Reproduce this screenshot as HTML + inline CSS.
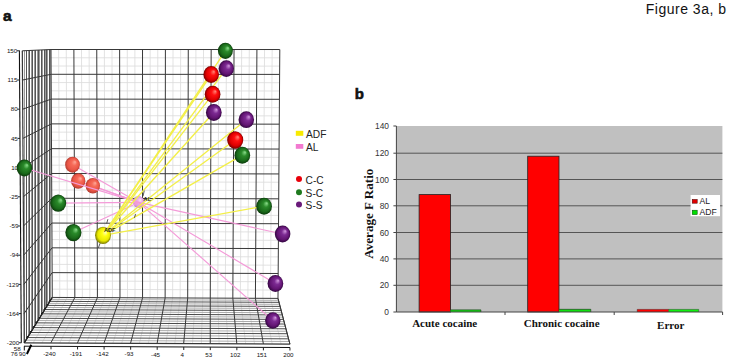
<!DOCTYPE html>
<html><head><meta charset="utf-8"><style>
html,body{margin:0;padding:0;background:#fff;}
body{width:729px;height:361px;overflow:hidden;position:relative;font-family:"Liberation Sans",sans-serif;}
svg{position:absolute;left:0;top:0;}
</style></head><body>
<svg width="729" height="361" viewBox="0 0 729 361">
<defs>
<radialGradient id="gg" cx="0.5" cy="0.5" r="0.5" fx="0.68" fy="0.32">
<stop offset="0" stop-color="#8ee08e"/><stop offset="0.35" stop-color="#2a8a2a"/><stop offset="0.75" stop-color="#1a6a1a"/><stop offset="1" stop-color="#0a3a0a"/></radialGradient>
<radialGradient id="gp" cx="0.5" cy="0.5" r="0.5" fx="0.68" fy="0.32">
<stop offset="0" stop-color="#d49ae0"/><stop offset="0.35" stop-color="#7c2a92"/><stop offset="0.75" stop-color="#621472"/><stop offset="1" stop-color="#320640"/></radialGradient>
<radialGradient id="gr" cx="0.5" cy="0.5" r="0.5" fx="0.68" fy="0.32">
<stop offset="0" stop-color="#ff8a7a"/><stop offset="0.35" stop-color="#ff1010"/><stop offset="0.75" stop-color="#dd0000"/><stop offset="1" stop-color="#7a0000"/></radialGradient>
<radialGradient id="gs" cx="0.5" cy="0.5" r="0.5" fx="0.68" fy="0.32">
<stop offset="0" stop-color="#ffaa9a"/><stop offset="0.35" stop-color="#f66a58"/><stop offset="0.75" stop-color="#ea5646"/><stop offset="1" stop-color="#b23c30"/></radialGradient>
<radialGradient id="gy" cx="0.5" cy="0.5" r="0.5" fx="0.68" fy="0.32">
<stop offset="0" stop-color="#ffffc0"/><stop offset="0.35" stop-color="#ffff10"/><stop offset="0.75" stop-color="#e8e800"/><stop offset="1" stop-color="#7a7a00"/></radialGradient>
<radialGradient id="ga" cx="0.5" cy="0.5" r="0.5" fx="0.68" fy="0.32">
<stop offset="0" stop-color="#fde6fb"/><stop offset="0.35" stop-color="#eeb4ec"/><stop offset="0.75" stop-color="#e2a0e0"/><stop offset="1" stop-color="#c488cc"/></radialGradient>

</defs>
<rect width="729" height="361" fill="#fff"/>
<!-- panel labels -->
<text x="3.0" y="20.6" font-family="Liberation Sans" font-weight="bold" font-size="15.5" fill="#111" stroke="#111" stroke-width="0.6">a</text>
<text x="354.8" y="98.6" font-family="Liberation Sans" font-weight="bold" font-size="15" fill="#111" stroke="#111" stroke-width="0.6">b</text>
<text x="645.8" y="13.8" font-family="Liberation Sans" font-size="14" letter-spacing="0.5" fill="#111">Figure 3a, b</text>

<!-- ===== panel a: 3D plot ===== -->
<g id="grid" shape-rendering="auto">
<line x1="58.62" y1="49.50" x2="59.79" y2="297.46" stroke="#dadada" stroke-width="0.8"/>
<line x1="51.04" y1="57.77" x2="279.74" y2="57.81" stroke="#dadada" stroke-width="0.8"/>
<line x1="66.25" y1="49.50" x2="67.31" y2="297.49" stroke="#dadada" stroke-width="0.8"/>
<line x1="51.08" y1="66.03" x2="279.68" y2="66.11" stroke="#dadada" stroke-width="0.8"/>
<line x1="81.50" y1="49.50" x2="82.36" y2="297.56" stroke="#dadada" stroke-width="0.8"/>
<line x1="51.17" y1="82.56" x2="279.56" y2="82.70" stroke="#dadada" stroke-width="0.8"/>
<line x1="89.13" y1="49.50" x2="89.89" y2="297.59" stroke="#dadada" stroke-width="0.8"/>
<line x1="51.21" y1="90.82" x2="279.50" y2="90.99" stroke="#dadada" stroke-width="0.8"/>
<line x1="104.39" y1="49.50" x2="104.93" y2="297.65" stroke="#dadada" stroke-width="0.8"/>
<line x1="51.29" y1="107.35" x2="279.38" y2="107.58" stroke="#dadada" stroke-width="0.8"/>
<line x1="112.01" y1="49.51" x2="112.46" y2="297.68" stroke="#dadada" stroke-width="0.8"/>
<line x1="51.34" y1="115.62" x2="279.32" y2="115.88" stroke="#dadada" stroke-width="0.8"/>
<line x1="127.27" y1="49.51" x2="127.51" y2="297.74" stroke="#dadada" stroke-width="0.8"/>
<line x1="51.42" y1="132.14" x2="279.20" y2="132.47" stroke="#dadada" stroke-width="0.8"/>
<line x1="134.89" y1="49.51" x2="135.03" y2="297.78" stroke="#dadada" stroke-width="0.8"/>
<line x1="51.46" y1="140.41" x2="279.14" y2="140.76" stroke="#dadada" stroke-width="0.8"/>
<line x1="150.15" y1="49.51" x2="150.08" y2="297.84" stroke="#dadada" stroke-width="0.8"/>
<line x1="51.55" y1="156.94" x2="279.02" y2="157.36" stroke="#dadada" stroke-width="0.8"/>
<line x1="157.77" y1="49.51" x2="157.60" y2="297.87" stroke="#dadada" stroke-width="0.8"/>
<line x1="51.59" y1="165.20" x2="278.96" y2="165.65" stroke="#dadada" stroke-width="0.8"/>
<line x1="173.03" y1="49.51" x2="172.65" y2="297.93" stroke="#dadada" stroke-width="0.8"/>
<line x1="51.67" y1="181.73" x2="278.83" y2="182.24" stroke="#dadada" stroke-width="0.8"/>
<line x1="180.65" y1="49.51" x2="180.17" y2="297.97" stroke="#dadada" stroke-width="0.8"/>
<line x1="51.72" y1="189.99" x2="278.77" y2="190.54" stroke="#dadada" stroke-width="0.8"/>
<line x1="195.91" y1="49.51" x2="195.22" y2="298.03" stroke="#dadada" stroke-width="0.8"/>
<line x1="51.80" y1="206.52" x2="278.65" y2="207.13" stroke="#dadada" stroke-width="0.8"/>
<line x1="203.53" y1="49.51" x2="202.75" y2="298.06" stroke="#dadada" stroke-width="0.8"/>
<line x1="51.84" y1="214.79" x2="278.59" y2="215.42" stroke="#dadada" stroke-width="0.8"/>
<line x1="218.79" y1="49.51" x2="217.79" y2="298.12" stroke="#dadada" stroke-width="0.8"/>
<line x1="51.93" y1="231.31" x2="278.47" y2="232.01" stroke="#dadada" stroke-width="0.8"/>
<line x1="226.42" y1="49.51" x2="225.32" y2="298.16" stroke="#dadada" stroke-width="0.8"/>
<line x1="51.97" y1="239.58" x2="278.41" y2="240.31" stroke="#dadada" stroke-width="0.8"/>
<line x1="241.67" y1="49.51" x2="240.37" y2="298.22" stroke="#dadada" stroke-width="0.8"/>
<line x1="52.05" y1="256.11" x2="278.29" y2="256.90" stroke="#dadada" stroke-width="0.8"/>
<line x1="249.30" y1="49.51" x2="247.89" y2="298.25" stroke="#dadada" stroke-width="0.8"/>
<line x1="52.10" y1="264.37" x2="278.23" y2="265.20" stroke="#dadada" stroke-width="0.8"/>
<line x1="264.55" y1="49.51" x2="262.94" y2="298.31" stroke="#dadada" stroke-width="0.8"/>
<line x1="52.18" y1="280.90" x2="278.11" y2="281.79" stroke="#dadada" stroke-width="0.8"/>
<line x1="272.18" y1="49.51" x2="270.46" y2="298.35" stroke="#dadada" stroke-width="0.8"/>
<line x1="52.22" y1="289.16" x2="278.05" y2="290.08" stroke="#dadada" stroke-width="0.8"/>
<line x1="33.11" y1="342.86" x2="59.79" y2="297.46" stroke="#dadada" stroke-width="0.8"/>
<line x1="41.97" y1="342.90" x2="67.31" y2="297.49" stroke="#dadada" stroke-width="0.8"/>
<line x1="59.68" y1="342.99" x2="82.36" y2="297.56" stroke="#dadada" stroke-width="0.8"/>
<line x1="68.54" y1="343.03" x2="89.89" y2="297.59" stroke="#dadada" stroke-width="0.8"/>
<line x1="86.25" y1="343.12" x2="104.93" y2="297.65" stroke="#dadada" stroke-width="0.8"/>
<line x1="95.11" y1="343.16" x2="112.46" y2="297.68" stroke="#dadada" stroke-width="0.8"/>
<line x1="112.82" y1="343.25" x2="127.51" y2="297.74" stroke="#dadada" stroke-width="0.8"/>
<line x1="121.68" y1="343.30" x2="135.03" y2="297.78" stroke="#dadada" stroke-width="0.8"/>
<line x1="139.39" y1="343.38" x2="150.08" y2="297.84" stroke="#dadada" stroke-width="0.8"/>
<line x1="148.25" y1="343.43" x2="157.60" y2="297.87" stroke="#dadada" stroke-width="0.8"/>
<line x1="165.96" y1="343.52" x2="172.65" y2="297.93" stroke="#dadada" stroke-width="0.8"/>
<line x1="174.82" y1="343.56" x2="180.17" y2="297.97" stroke="#dadada" stroke-width="0.8"/>
<line x1="192.53" y1="343.65" x2="195.22" y2="298.03" stroke="#dadada" stroke-width="0.8"/>
<line x1="201.39" y1="343.69" x2="202.75" y2="298.06" stroke="#dadada" stroke-width="0.8"/>
<line x1="219.10" y1="343.78" x2="217.79" y2="298.12" stroke="#dadada" stroke-width="0.8"/>
<line x1="227.96" y1="343.82" x2="225.32" y2="298.16" stroke="#dadada" stroke-width="0.8"/>
<line x1="245.67" y1="343.91" x2="240.37" y2="298.22" stroke="#dadada" stroke-width="0.8"/>
<line x1="254.53" y1="343.96" x2="247.89" y2="298.25" stroke="#dadada" stroke-width="0.8"/>
<line x1="272.24" y1="344.05" x2="262.94" y2="298.31" stroke="#dadada" stroke-width="0.8"/>
<line x1="281.10" y1="344.09" x2="270.46" y2="298.35" stroke="#dadada" stroke-width="0.8"/>
<line x1="24.5" y1="50.72" x2="24.5" y2="340.17" stroke="#9a9a9a" stroke-width="1"/>
<line x1="25.89" y1="340.17" x2="289.26" y2="341.46" stroke="#aaaaaa" stroke-width="1"/>
<line x1="28.5" y1="50.58" x2="28.5" y2="335.01" stroke="#9a9a9a" stroke-width="1"/>
<line x1="29.06" y1="335.01" x2="287.90" y2="336.27" stroke="#aaaaaa" stroke-width="1"/>
<line x1="31.5" y1="50.43" x2="31.5" y2="330.03" stroke="#9a9a9a" stroke-width="1"/>
<line x1="32.13" y1="330.03" x2="286.59" y2="331.24" stroke="#aaaaaa" stroke-width="1"/>
<line x1="34.5" y1="50.30" x2="34.5" y2="325.22" stroke="#9a9a9a" stroke-width="1"/>
<line x1="35.10" y1="325.22" x2="285.32" y2="326.39" stroke="#aaaaaa" stroke-width="1"/>
<line x1="37.5" y1="50.16" x2="37.5" y2="320.56" stroke="#9a9a9a" stroke-width="1"/>
<line x1="37.98" y1="320.56" x2="284.09" y2="321.69" stroke="#aaaaaa" stroke-width="1"/>
<line x1="39.5" y1="50.03" x2="39.5" y2="316.05" stroke="#9a9a9a" stroke-width="1"/>
<line x1="40.76" y1="316.05" x2="282.90" y2="317.14" stroke="#aaaaaa" stroke-width="1"/>
<line x1="42.5" y1="49.91" x2="42.5" y2="311.68" stroke="#9a9a9a" stroke-width="1"/>
<line x1="43.46" y1="311.68" x2="281.75" y2="312.74" stroke="#aaaaaa" stroke-width="1"/>
<line x1="45.5" y1="49.79" x2="45.5" y2="307.45" stroke="#9a9a9a" stroke-width="1"/>
<line x1="46.07" y1="307.45" x2="280.63" y2="308.48" stroke="#aaaaaa" stroke-width="1"/>
<line x1="47.5" y1="49.67" x2="47.5" y2="303.35" stroke="#9a9a9a" stroke-width="1"/>
<line x1="48.60" y1="303.35" x2="279.55" y2="304.34" stroke="#aaaaaa" stroke-width="1"/>
<line x1="50.5" y1="49.56" x2="50.5" y2="299.37" stroke="#9a9a9a" stroke-width="1"/>
<line x1="51.06" y1="299.37" x2="278.50" y2="300.34" stroke="#aaaaaa" stroke-width="1"/>
<line x1="26.5" y1="50.65" x2="26.5" y2="337.57" stroke="#555555" stroke-width="1"/>
<line x1="27.49" y1="337.57" x2="288.57" y2="338.84" stroke="#4a4a4a" stroke-width="1"/>
<line x1="29.5" y1="50.51" x2="29.5" y2="332.50" stroke="#555555" stroke-width="1"/>
<line x1="30.61" y1="332.50" x2="287.24" y2="333.73" stroke="#4a4a4a" stroke-width="1"/>
<line x1="32.5" y1="50.37" x2="32.5" y2="327.60" stroke="#555555" stroke-width="1"/>
<line x1="33.63" y1="327.60" x2="285.95" y2="328.79" stroke="#4a4a4a" stroke-width="1"/>
<line x1="35.5" y1="50.23" x2="35.5" y2="322.87" stroke="#555555" stroke-width="1"/>
<line x1="36.55" y1="322.87" x2="284.70" y2="324.02" stroke="#4a4a4a" stroke-width="1"/>
<line x1="38.5" y1="50.10" x2="38.5" y2="318.29" stroke="#555555" stroke-width="1"/>
<line x1="39.38" y1="318.29" x2="283.49" y2="319.40" stroke="#4a4a4a" stroke-width="1"/>
<line x1="41.5" y1="49.97" x2="41.5" y2="313.85" stroke="#555555" stroke-width="1"/>
<line x1="42.12" y1="313.85" x2="282.32" y2="314.93" stroke="#4a4a4a" stroke-width="1"/>
<line x1="44.5" y1="49.85" x2="44.5" y2="309.55" stroke="#555555" stroke-width="1"/>
<line x1="44.77" y1="309.55" x2="281.19" y2="310.59" stroke="#4a4a4a" stroke-width="1"/>
<line x1="46.5" y1="49.73" x2="46.5" y2="305.39" stroke="#555555" stroke-width="1"/>
<line x1="47.35" y1="305.39" x2="280.09" y2="306.39" stroke="#4a4a4a" stroke-width="1"/>
<line x1="49.5" y1="49.61" x2="49.5" y2="301.35" stroke="#555555" stroke-width="1"/>
<line x1="49.84" y1="301.35" x2="279.02" y2="302.32" stroke="#4a4a4a" stroke-width="1"/>
<line x1="51.00" y1="49.50" x2="52.27" y2="297.43" stroke="#383838" stroke-width="1"/>
<line x1="51.00" y1="49.50" x2="279.80" y2="49.52" stroke="#383838" stroke-width="1"/>
<line x1="73.88" y1="49.50" x2="74.84" y2="297.52" stroke="#383838" stroke-width="1"/>
<line x1="51.12" y1="74.29" x2="279.62" y2="74.40" stroke="#383838" stroke-width="1"/>
<line x1="96.76" y1="49.50" x2="97.41" y2="297.62" stroke="#383838" stroke-width="1"/>
<line x1="51.25" y1="99.09" x2="279.44" y2="99.29" stroke="#383838" stroke-width="1"/>
<line x1="119.64" y1="49.51" x2="119.98" y2="297.71" stroke="#383838" stroke-width="1"/>
<line x1="51.38" y1="123.88" x2="279.26" y2="124.17" stroke="#383838" stroke-width="1"/>
<line x1="142.52" y1="49.51" x2="142.55" y2="297.81" stroke="#383838" stroke-width="1"/>
<line x1="51.50" y1="148.67" x2="279.08" y2="149.06" stroke="#383838" stroke-width="1"/>
<line x1="165.40" y1="49.51" x2="165.13" y2="297.90" stroke="#383838" stroke-width="1"/>
<line x1="51.63" y1="173.47" x2="278.89" y2="173.95" stroke="#383838" stroke-width="1"/>
<line x1="188.28" y1="49.51" x2="187.70" y2="298.00" stroke="#383838" stroke-width="1"/>
<line x1="51.76" y1="198.26" x2="278.71" y2="198.83" stroke="#383838" stroke-width="1"/>
<line x1="211.16" y1="49.51" x2="210.27" y2="298.09" stroke="#383838" stroke-width="1"/>
<line x1="51.89" y1="223.05" x2="278.53" y2="223.72" stroke="#383838" stroke-width="1"/>
<line x1="234.04" y1="49.51" x2="232.84" y2="298.19" stroke="#383838" stroke-width="1"/>
<line x1="52.01" y1="247.84" x2="278.35" y2="248.60" stroke="#383838" stroke-width="1"/>
<line x1="256.92" y1="49.51" x2="255.41" y2="298.28" stroke="#383838" stroke-width="1"/>
<line x1="52.14" y1="272.64" x2="278.17" y2="273.49" stroke="#383838" stroke-width="1"/>
<line x1="279.80" y1="49.52" x2="277.99" y2="298.38" stroke="#383838" stroke-width="1"/>
<line x1="52.27" y1="297.43" x2="277.99" y2="298.38" stroke="#383838" stroke-width="1"/>
<line x1="22.31" y1="50.80" x2="51.00" y2="49.50" stroke="#383838" stroke-width="1"/>
<line x1="22.50" y1="80.00" x2="51.12" y2="74.29" stroke="#383838" stroke-width="1"/>
<line x1="22.70" y1="109.20" x2="51.25" y2="99.09" stroke="#383838" stroke-width="1"/>
<line x1="22.89" y1="138.40" x2="51.38" y2="123.88" stroke="#383838" stroke-width="1"/>
<line x1="23.09" y1="167.60" x2="51.50" y2="148.67" stroke="#383838" stroke-width="1"/>
<line x1="23.28" y1="196.81" x2="51.63" y2="173.47" stroke="#383838" stroke-width="1"/>
<line x1="23.48" y1="226.01" x2="51.76" y2="198.26" stroke="#383838" stroke-width="1"/>
<line x1="23.67" y1="255.21" x2="51.89" y2="223.05" stroke="#383838" stroke-width="1"/>
<line x1="23.87" y1="284.41" x2="52.01" y2="247.84" stroke="#383838" stroke-width="1"/>
<line x1="24.06" y1="313.61" x2="52.14" y2="272.64" stroke="#383838" stroke-width="1"/>
<line x1="24.26" y1="342.81" x2="52.27" y2="297.43" stroke="#383838" stroke-width="1"/>
<line x1="24.26" y1="342.81" x2="52.27" y2="297.43" stroke="#383838" stroke-width="1"/>
<line x1="50.83" y1="342.94" x2="74.84" y2="297.52" stroke="#383838" stroke-width="1"/>
<line x1="77.40" y1="343.08" x2="97.41" y2="297.62" stroke="#383838" stroke-width="1"/>
<line x1="103.96" y1="343.21" x2="119.98" y2="297.71" stroke="#383838" stroke-width="1"/>
<line x1="130.53" y1="343.34" x2="142.55" y2="297.81" stroke="#383838" stroke-width="1"/>
<line x1="157.10" y1="343.47" x2="165.13" y2="297.90" stroke="#383838" stroke-width="1"/>
<line x1="183.67" y1="343.60" x2="187.70" y2="298.00" stroke="#383838" stroke-width="1"/>
<line x1="210.24" y1="343.74" x2="210.27" y2="298.09" stroke="#383838" stroke-width="1"/>
<line x1="236.81" y1="343.87" x2="232.84" y2="298.19" stroke="#383838" stroke-width="1"/>
<line x1="263.38" y1="344.00" x2="255.41" y2="298.28" stroke="#383838" stroke-width="1"/>
<line x1="289.95" y1="344.13" x2="277.99" y2="298.38" stroke="#383838" stroke-width="1"/>
<line x1="22.31" y1="50.80" x2="24.26" y2="342.81" stroke="#383838" stroke-width="1.2"/>
<line x1="24.26" y1="342.81" x2="289.95" y2="344.13" stroke="#383838" stroke-width="1.2"/>
<line x1="289.95" y1="344.13" x2="277.99" y2="298.38" stroke="#383838" stroke-width="1"/>
<line x1="24.26" y1="342.81" x2="52.27" y2="297.43" stroke="#222" stroke-width="1.3"/>
<line x1="26.29" y1="337.77" x2="28.09" y2="335.97" stroke="#111" stroke-width="1.0"/>
<line x1="29.41" y1="332.70" x2="31.21" y2="330.90" stroke="#111" stroke-width="1.0"/>
<line x1="32.43" y1="327.80" x2="34.23" y2="326.00" stroke="#111" stroke-width="1.0"/>
<line x1="35.35" y1="323.07" x2="37.15" y2="321.27" stroke="#111" stroke-width="1.0"/>
<line x1="38.18" y1="318.49" x2="39.98" y2="316.69" stroke="#111" stroke-width="1.0"/>
<line x1="40.92" y1="314.05" x2="42.72" y2="312.25" stroke="#111" stroke-width="1.0"/>
<line x1="43.57" y1="309.75" x2="45.37" y2="307.95" stroke="#111" stroke-width="1.0"/>
<line x1="46.15" y1="305.59" x2="47.95" y2="303.79" stroke="#111" stroke-width="1.0"/>
<line x1="48.64" y1="301.55" x2="50.44" y2="299.75" stroke="#111" stroke-width="1.0"/>
</g>
<line x1="19.4" y1="50.6" x2="21.3" y2="342.8" stroke="#111" stroke-width="1.1"/>
<line x1="24" y1="346.2" x2="290" y2="347.5" stroke="#111" stroke-width="1"/>
<line x1="24.3" y1="346.2" x2="24.3" y2="350.5" stroke="#111" stroke-width="1"/>
<g font-family="Liberation Sans" font-size="6.2" fill="#111">
<text x="17.21" y="53.0" text-anchor="end">150</text>
<line x1="16.91" y1="50.80" x2="19.41" y2="50.80" stroke="#222" stroke-width="1"/>
<text x="17.41" y="82.2" text-anchor="end">115</text>
<line x1="17.11" y1="80.00" x2="19.61" y2="80.00" stroke="#222" stroke-width="1"/>
<text x="17.61" y="111.4" text-anchor="end">80</text>
<line x1="17.31" y1="109.20" x2="19.80" y2="109.20" stroke="#222" stroke-width="1"/>
<text x="17.81" y="140.6" text-anchor="end">45</text>
<line x1="17.52" y1="138.40" x2="20.00" y2="138.40" stroke="#222" stroke-width="1"/>
<text x="18.02" y="169.8" text-anchor="end">10</text>
<line x1="17.72" y1="167.59" x2="20.20" y2="167.60" stroke="#222" stroke-width="1"/>
<text x="18.22" y="199.0" text-anchor="end">-25</text>
<line x1="17.92" y1="196.79" x2="20.40" y2="196.80" stroke="#222" stroke-width="1"/>
<text x="18.42" y="228.2" text-anchor="end">-59</text>
<line x1="18.13" y1="225.99" x2="20.60" y2="226.00" stroke="#222" stroke-width="1"/>
<text x="18.63" y="257.4" text-anchor="end">-94</text>
<line x1="18.33" y1="255.19" x2="20.80" y2="255.20" stroke="#222" stroke-width="1"/>
<text x="18.83" y="286.6" text-anchor="end">-129</text>
<line x1="18.53" y1="284.39" x2="21.00" y2="284.40" stroke="#222" stroke-width="1"/>
<text x="19.03" y="315.8" text-anchor="end">-164</text>
<line x1="18.74" y1="313.59" x2="21.20" y2="313.60" stroke="#222" stroke-width="1"/>
<text x="19.24" y="345.0" text-anchor="end">-200</text>
<line x1="18.94" y1="342.78" x2="21.40" y2="342.80" stroke="#222" stroke-width="1"/>
<text x="49.4" y="355.9" text-anchor="middle">-240</text>
<line x1="51.00" y1="346.30" x2="51.00" y2="349.30" stroke="#222" stroke-width="1"/>
<text x="76.0" y="356.0" text-anchor="middle">-191</text>
<line x1="77.55" y1="346.43" x2="77.55" y2="349.43" stroke="#222" stroke-width="1"/>
<text x="102.5" y="356.2" text-anchor="middle">-142</text>
<line x1="104.10" y1="346.57" x2="104.10" y2="349.57" stroke="#222" stroke-width="1"/>
<text x="129.1" y="356.3" text-anchor="middle">-93</text>
<line x1="130.65" y1="346.70" x2="130.65" y2="349.70" stroke="#222" stroke-width="1"/>
<text x="155.6" y="356.5" text-anchor="middle">-45</text>
<line x1="157.20" y1="346.83" x2="157.20" y2="349.83" stroke="#222" stroke-width="1"/>
<text x="182.2" y="356.6" text-anchor="middle">4</text>
<line x1="183.75" y1="346.97" x2="183.75" y2="349.97" stroke="#222" stroke-width="1"/>
<text x="208.7" y="356.8" text-anchor="middle">53</text>
<line x1="210.30" y1="347.10" x2="210.30" y2="350.10" stroke="#222" stroke-width="1"/>
<text x="235.2" y="356.9" text-anchor="middle">102</text>
<line x1="236.85" y1="347.23" x2="236.85" y2="350.23" stroke="#222" stroke-width="1"/>
<text x="261.8" y="357.1" text-anchor="middle">151</text>
<line x1="263.40" y1="347.37" x2="263.40" y2="350.37" stroke="#222" stroke-width="1"/>
<text x="288.4" y="357.2" text-anchor="middle">200</text>
<line x1="289.95" y1="347.50" x2="289.95" y2="350.50" stroke="#222" stroke-width="1"/>
<text x="20.6" y="351.4" text-anchor="end">58</text>
<text x="17.6" y="356.4" text-anchor="end">76</text>
<text x="25.6" y="355.5" text-anchor="end">90</text>
</g>
<line x1="26.9" y1="354" x2="31.3" y2="344.7" stroke="#000" stroke-width="2"/>
<line x1="138.60" y1="202.40" x2="72.50" y2="164.70" stroke="#f49ad8" stroke-width="1.15"/>
<line x1="138.60" y1="202.40" x2="78.20" y2="181.00" stroke="#f49ad8" stroke-width="1.15"/>
<line x1="138.60" y1="202.40" x2="92.80" y2="185.70" stroke="#f49ad8" stroke-width="1.15"/>
<ellipse cx="72.5" cy="164.7" rx="7.37" ry="7.98" fill="url(#gs)"/>
<ellipse cx="78.2" cy="181.0" rx="7.18" ry="7.77" fill="url(#gs)"/>
<ellipse cx="92.8" cy="185.7" rx="7.18" ry="7.77" fill="url(#gs)"/>
<ellipse cx="138.6" cy="201.9" rx="5.6" ry="6" fill="url(#ga)"/>
<g id="lines">
<line x1="138.60" y1="202.40" x2="24.40" y2="168.00" stroke="#f49ad8" stroke-width="1.15"/>
<line x1="138.60" y1="202.40" x2="58.20" y2="203.10" stroke="#f49ad8" stroke-width="1.15"/>
<line x1="138.60" y1="202.40" x2="73.40" y2="232.60" stroke="#f49ad8" stroke-width="1.15"/>
<line x1="138.60" y1="202.40" x2="282.60" y2="234.00" stroke="#f49ad8" stroke-width="1.15"/>
<line x1="138.60" y1="202.40" x2="275.40" y2="283.50" stroke="#f49ad8" stroke-width="1.15"/>
<line x1="138.60" y1="202.40" x2="272.80" y2="320.50" stroke="#f49ad8" stroke-width="1.15"/>
<line x1="103.00" y1="235.30" x2="225.40" y2="50.80" stroke="#f3ef48" stroke-width="1.35"/>
<line x1="103.00" y1="235.30" x2="226.30" y2="68.60" stroke="#f3ef48" stroke-width="1.35"/>
<line x1="103.00" y1="235.30" x2="211.20" y2="74.50" stroke="#f3ef48" stroke-width="1.35"/>
<line x1="103.00" y1="235.30" x2="212.60" y2="94.30" stroke="#f3ef48" stroke-width="1.35"/>
<line x1="103.00" y1="235.30" x2="213.80" y2="112.50" stroke="#f3ef48" stroke-width="1.35"/>
<line x1="103.00" y1="235.30" x2="246.30" y2="119.70" stroke="#f3ef48" stroke-width="1.35"/>
<line x1="103.00" y1="235.30" x2="235.20" y2="140.00" stroke="#f3ef48" stroke-width="1.35"/>
<line x1="103.00" y1="235.30" x2="242.30" y2="155.20" stroke="#f3ef48" stroke-width="1.35"/>
<line x1="103.00" y1="235.30" x2="264.10" y2="206.20" stroke="#f3ef48" stroke-width="1.35"/>
</g>
<g id="spheres">
<ellipse cx="24.4" cy="168.0" rx="7.76" ry="8.40" fill="url(#gg)"/>
<ellipse cx="58.2" cy="203.1" rx="8.05" ry="8.72" fill="url(#gg)"/>
<ellipse cx="73.4" cy="232.6" rx="8.05" ry="8.72" fill="url(#gg)"/>
<ellipse cx="226.3" cy="68.6" rx="7.66" ry="8.29" fill="url(#gp)"/>
<ellipse cx="225.4" cy="50.8" rx="7.47" ry="8.09" fill="url(#gg)"/>
<ellipse cx="211.2" cy="74.5" rx="7.76" ry="8.40" fill="url(#gr)"/>
<ellipse cx="212.6" cy="94.3" rx="7.86" ry="8.51" fill="url(#gr)"/>
<ellipse cx="213.8" cy="112.5" rx="7.86" ry="8.51" fill="url(#gp)"/>
<ellipse cx="246.3" cy="119.7" rx="7.76" ry="8.40" fill="url(#gp)"/>
<ellipse cx="235.2" cy="140.0" rx="8.05" ry="8.72" fill="url(#gr)"/>
<ellipse cx="242.3" cy="155.2" rx="7.86" ry="8.51" fill="url(#gg)"/>
<ellipse cx="264.1" cy="206.2" rx="7.86" ry="8.51" fill="url(#gg)"/>
<ellipse cx="282.6" cy="234.0" rx="7.76" ry="8.40" fill="url(#gp)"/>
<ellipse cx="275.4" cy="283.5" rx="7.86" ry="8.51" fill="url(#gp)"/>
<ellipse cx="272.8" cy="320.5" rx="7.66" ry="8.29" fill="url(#gp)"/>
<ellipse cx="103.0" cy="235.3" rx="7.95" ry="8.61" fill="url(#gy)"/>
</g>
<g stroke="#333" stroke-width="0.8">
<line x1="144.3" y1="190.6" x2="143" y2="196.2"/>
<line x1="135.6" y1="214.2" x2="134.4" y2="217.8"/>
<line x1="107.9" y1="219.2" x2="106.7" y2="223.4"/>
<line x1="100" y1="243.4" x2="98.4" y2="247.8"/>
</g>
<g font-family="Liberation Sans" font-size="5.6" font-weight="bold" fill="#222">
<text x="143.6" y="200.5">AL</text>
<text x="104" y="232">ADF</text>
</g>
<!-- legend a -->
<rect x="295.8" y="130.8" width="7.5" height="5" fill="#f8ea00"/>
<rect x="295.8" y="144" width="7.5" height="4.8" fill="#f27ad0"/>
<g font-family="Liberation Sans" font-size="10.2" fill="#222">
<text x="306" y="137.6">ADF</text>
<text x="306" y="151.1">AL</text>
<text x="305.6" y="184">C-C</text>
<text x="305.6" y="197.1">S-C</text>
<text x="305.6" y="209">S-S</text>
</g>
<circle cx="299" cy="179" r="3" fill="#e8000a"/>
<circle cx="299" cy="192.2" r="3" fill="#1f7a1f"/>
<circle cx="299" cy="204.4" r="3" fill="#6a1a7a"/>

<!-- ===== panel b: bar chart ===== -->
<rect x="396.4" y="126" width="326" height="186" fill="#c0c0c0"/>
<g stroke="#555" stroke-width="1">
<line x1="396.4" y1="153.2" x2="722.4" y2="153.2"/>
<line x1="396.4" y1="179.5" x2="722.4" y2="179.5"/>
<line x1="396.4" y1="205.8" x2="722.4" y2="205.8"/>
<line x1="396.4" y1="232.5" x2="722.4" y2="232.5"/>
<line x1="396.4" y1="258.9" x2="722.4" y2="258.9"/>
<line x1="396.4" y1="285.3" x2="722.4" y2="285.3"/>
</g>
<g stroke="#222" stroke-width="0.8">
<rect x="419.1" y="194.6" width="31.5" height="117.4" fill="#ff0000"/>

<rect x="527.7" y="156.2" width="31.3" height="155.8" fill="#ff0000"/>


</g>
<g stroke="none">
<rect x="450.6" y="309.8" width="30.3" height="2.2" fill="#10e010"/>
<rect x="559" y="309.2" width="31.8" height="2.8" fill="#10e010"/>
<rect x="637.2" y="309.4" width="31.5" height="2.6" fill="#ff0000"/>
<rect x="668.7" y="309.4" width="30" height="2.6" fill="#10f010"/>
</g>
<g stroke="#222" stroke-width="0.6">
<line x1="450.6" y1="309.9" x2="480.9" y2="309.9"/>
<line x1="480.9" y1="309.9" x2="480.9" y2="312"/>
<line x1="559" y1="309.3" x2="590.8" y2="309.3"/>
<line x1="590.8" y1="309.3" x2="590.8" y2="312"/>
<line x1="637.2" y1="309.4" x2="698.7" y2="309.4" stroke-width="0.4"/>
<line x1="637.2" y1="309.4" x2="637.2" y2="312" stroke-width="0.4"/>
<line x1="668.7" y1="309.4" x2="668.7" y2="312" stroke-width="0.4"/>
<line x1="698.7" y1="309.4" x2="698.7" y2="312" stroke-width="0.4"/>
</g>
<g stroke="#444" stroke-width="1">
<line x1="396.4" y1="126" x2="396.4" y2="312"/>
<line x1="396.4" y1="312" x2="722.6" y2="312"/>
<line x1="393.4" y1="126" x2="396.4" y2="126"/>
<line x1="393.4" y1="153.2" x2="396.4" y2="153.2"/>
<line x1="393.4" y1="179.5" x2="396.4" y2="179.5"/>
<line x1="393.4" y1="205.8" x2="396.4" y2="205.8"/>
<line x1="393.4" y1="232.5" x2="396.4" y2="232.5"/>
<line x1="393.4" y1="258.9" x2="396.4" y2="258.9"/>
<line x1="393.4" y1="285.3" x2="396.4" y2="285.3"/>
<line x1="393.4" y1="312" x2="396.4" y2="312"/>
<line x1="505" y1="312" x2="505" y2="315"/>
<line x1="614.2" y1="312" x2="614.2" y2="315"/>
<line x1="722.6" y1="312" x2="722.6" y2="315"/>
</g>
<g font-family="Liberation Sans" font-size="8.4" fill="#333" text-anchor="end">
<text x="389" y="129">140</text>
<text x="389" y="156.2">120</text>
<text x="389" y="182.5">100</text>
<text x="389" y="208.8">80</text>
<text x="389" y="235.5">60</text>
<text x="389" y="261.9">40</text>
<text x="389" y="288.3">20</text>
<text x="389" y="315">0</text>
</g>
<text transform="translate(372.9,213.7) rotate(-90)" text-anchor="middle" font-family="Liberation Serif" font-weight="bold" font-size="13.1" fill="#111">Average F Ratio</text>
<g font-family="Liberation Serif" font-weight="bold" font-size="11" fill="#111" text-anchor="middle">
<text x="444.7" y="327">Acute cocaine</text>
<text x="561.7" y="327.3">Chronic cocaine</text>
<text x="670.7" y="328.9">Error</text>
</g>
<!-- legend b -->
<rect x="690.6" y="195" width="29.4" height="21.2" fill="#fff"/>
<rect x="692.2" y="199.4" width="5" height="3.8" fill="#e00000" stroke="#400" stroke-width="0.5"/>
<rect x="692.2" y="210.2" width="5" height="4.4" fill="#00dd00" stroke="#040" stroke-width="0.5"/>
<g font-family="Liberation Sans" font-size="8.6" fill="#222">
<text x="699.6" y="203.8">AL</text>
<text x="699.6" y="215">ADF</text>
</g>
</svg>
</body></html>
